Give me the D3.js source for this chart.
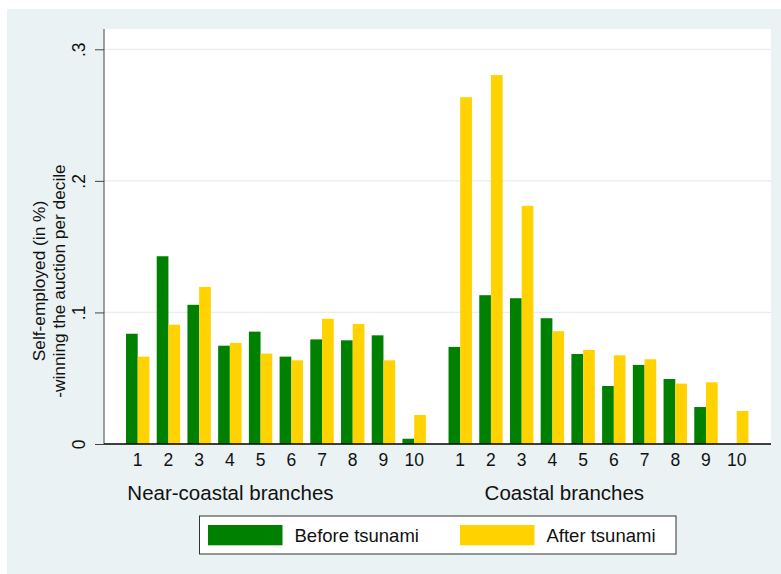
<!DOCTYPE html>
<html>
<head>
<meta charset="utf-8">
<script src="https://cdn.jsdelivr.net/npm/d3@7"></script>
<style>
  html, body { margin: 0; padding: 0; background: #ffffff; }
  svg { display: block; font-family: "Liberation Sans", Arial, sans-serif; }
</style>
</head>
<body>
<div id="chart"></div>
<script>
// --- data ---
const deciles = ["1", "2", "3", "4", "5", "6", "7", "8", "9", "10"];
const groups = ["Near-coastal branches", "Coastal branches"];
const series = ["Before tsunami", "After tsunami"];

const nearBefore  = [0.0838, 0.1427, 0.1058, 0.0747, 0.0854, 0.0664, 0.0795, 0.0788, 0.0826, 0.0040];
const nearAfter   = [0.0664, 0.0907, 0.1194, 0.0768, 0.0687, 0.0636, 0.0952, 0.0912, 0.0636, 0.0220];
const coastBefore = [0.0738, 0.1131, 0.1108, 0.0956, 0.0684, 0.0441, 0.0601, 0.0494, 0.0281, 0];
const coastAfter  = [0.2636, 0.2804, 0.1810, 0.0857, 0.0715, 0.0674, 0.0644, 0.0459, 0.0469, 0.0251];

const yTicks = [0, 0.1, 0.2, 0.3];
const yTickLabels = ["0", ".1", ".2", ".3"];

const colors = { "Before tsunami": "#008000", "After tsunami": "#ffd200" };

// 1) build rows
const values = [[nearBefore, nearAfter], [coastBefore, coastAfter]];
const groupOffset = [0, 10.5];   // slot index where each group starts
const labelSlot = [3.02, 13.89]; // where stata put the group captions

const rows = [];
groups.forEach((g, gi) => {
  deciles.forEach((d, di) => {
    series.forEach((s, si) => {
      rows.push({ group: g, decile: d, series: s, slot: groupOffset[gi] + di, value: values[gi][si][di] });
    });
  });
});

// 2) canvas
const W = 781, H = 574;
const plot = { left: 104, right: 771, top: 29, bottom: 444 };

const svg = d3.select("#chart").append("svg")
  .attr("width", W).attr("height", H);

// outer stata panel
svg.append("rect")
  .attr("x", 7).attr("y", 9)
  .attr("width", W - 7).attr("height", H - 9)
  .attr("fill", "#eaf2f3");

svg.append("rect")
  .attr("x", plot.left).attr("y", plot.top)
  .attr("width", plot.right - plot.left).attr("height", plot.bottom - plot.top)
  .attr("fill", "#ffffff");

// 3) scales
const x = d3.scaleLinear().domain([-1.097, 20.617]).range([plot.left, plot.right]);
const inner = d3.scaleBand().domain(series).range([-0.381, 0.381]);
const y = d3.scaleLinear().domain([0, 0.3]).range([plot.bottom, 49.3]);

// 4) gridlines
svg.append("g")
  .selectAll("line")
  .data(yTicks.filter(t => t > 0))
  .join("line")
    .attr("x1", plot.left).attr("x2", plot.right)
    .attr("y1", d => y(d)).attr("y2", d => y(d))
    .attr("stroke", "#e6eef0").attr("stroke-width", 1.2);

// 5) bars
svg.append("g")
  .selectAll("rect")
  .data(rows.filter(r => r.value > 0))
  .join("rect")
    .attr("x", d => x(d.slot + inner(d.series)))
    .attr("width", d => x(d.slot + inner(d.series) + inner.bandwidth()) - x(d.slot + inner(d.series)))
    .attr("y", d => y(d.value))
    .attr("height", d => y(0) - y(d.value))
    .attr("fill", d => colors[d.series]);

// 6) axes
const yAxis = svg.append("g")
  .attr("transform", `translate(${plot.left},0)`)
  .call(d3.axisLeft(y).tickValues(yTicks).tickSize(9).tickFormat((d, i) => yTickLabels[i]));
yAxis.select(".domain").attr("d", `M0,${plot.top}V${plot.bottom}`).attr("stroke", "#444");
yAxis.selectAll(".tick line").attr("stroke", "#444");
yAxis.selectAll(".tick text")
  .attr("x", 0).attr("y", 0)
  .attr("transform", "translate(-25,0) rotate(-90)")
  .attr("text-anchor", "middle")
  .attr("dy", "0.35em")
  .style("font-size", "17.5px")
  .style("font-family", "'Liberation Sans', Arial, sans-serif")
  .attr("fill", "#111");

svg.append("line")
  .attr("x1", plot.left).attr("x2", plot.right)
  .attr("y1", plot.bottom).attr("y2", plot.bottom)
  .attr("stroke", "#000").attr("stroke-width", 1.3);

// decile labels under each pair
svg.append("g")
  .selectAll("text")
  .data(rows.filter(r => r.series === series[0]))
  .join("text")
    .attr("x", d => x(d.slot))
    .attr("y", 466)
    .attr("text-anchor", "middle")
    .style("font-size", "17.5px")
    .attr("fill", "#111")
    .text(d => d.decile);

// group captions
svg.append("g")
  .selectAll("text")
  .data(groups)
  .join("text")
    .attr("x", (d, i) => x(labelSlot[i]))
    .attr("y", 499.5)
    .attr("text-anchor", "middle")
    .style("font-size", "20.5px")
    .attr("fill", "#111")
    .text(d => d);

// y title (two lines)
const ytitle = svg.append("text")
  .attr("transform", "translate(0,281) rotate(-90)")
  .attr("text-anchor", "middle")
  .style("font-size", "17.3px")
  .attr("fill", "#111");
ytitle.append("tspan").attr("x", 0).attr("y", 45).text("Self-employed (in %)");
ytitle.append("tspan").attr("x", 0).attr("y", 64.5).text("-winning the auction per decile");

// 7) legend
const legend = svg.append("g");
legend.append("rect")
  .attr("x", 199.5).attr("y", 516)
  .attr("width", 476.5).attr("height", 38)
  .attr("fill", "#ffffff").attr("stroke", "#333").attr("stroke-width", 1);

const legendX = [208, 460];
const item = legend.selectAll("g.item")
  .data(series)
  .join("g")
    .attr("class", "item")
    .attr("transform", (d, i) => `translate(${legendX[i]},0)`);
item.append("rect")
  .attr("x", 0).attr("y", 525)
  .attr("width", 74.5).attr("height", 20.3)
  .attr("fill", d => colors[d]);
item.append("text")
  .attr("x", 86.5).attr("y", 541.5)
  .style("font-size", "18.5px")
  .attr("fill", "#111")
  .text(d => d);
</script>
</body>
</html>
